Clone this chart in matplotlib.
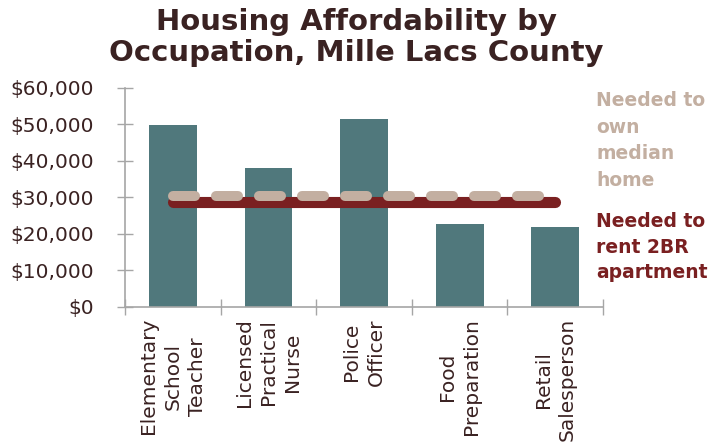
import numpy as np
from matplotlib import pyplot as plt
from matplotlib.ticker import FuncFormatter, FixedLocator

### Data
occupations = ['Elementary\nSchool\nTeacher', 'Licensed\nPractical\nNurse',
               'Police\nOfficer', 'Food\nPreparation', 'Retail\nSalesperson']
wages = [49800, 38200, 51400, 22800, 22000]
ownNeeded = [30400, 30400, 30400, 30400, 30400]
rentNeeded = [28700, 28700, 28700, 28700, 28700]

### Colours
barCol = '#50787C'
ownCol = '#C3AFA1'
rentCol = '#7A2021'
textCol = '#3A2222'
axisCol = '#A6A6A6'

x = np.arange(len(occupations))

fig = plt.figure(figsize=(7.08, 4.46), dpi=100)
ax = fig.add_axes([0.1766, 0.3117, 0.8517 - 0.1766, 0.8027 - 0.3117])

ax.bar(x, wages, width=0.5, color=barCol, zorder=2)
ax.plot(x, rentNeeded, color=rentCol, lw=8, solid_capstyle='round', zorder=3)
ax.plot(x, ownNeeded, color=ownCol, lw=7.2, dashes=(2.2, 2.1),
        dash_capstyle='round', zorder=4)

ax.set_xlim(-0.5, 4.5)
ax.set_ylim(0, 60000)
ax.set_yticks(np.arange(0, 60001, 10000))
ax.yaxis.set_major_formatter(FuncFormatter(lambda v, p: r'\$' + format(int(v), ',')))

ax.set_xticks(x)
ax.set_xticklabels(occupations, rotation=90, ha='center', va='top',
                   multialignment='center', fontsize=14.5, color=textCol,
                   linespacing=1.35)
ax.xaxis.set_minor_locator(FixedLocator(np.arange(-0.5, 5, 1.0)))
ax.tick_params(axis='x', which='major', length=0, pad=8)
ax.tick_params(axis='x', which='minor', direction='inout', length=12,
               color=axisCol, width=1)
ax.tick_params(axis='y', direction='inout', length=11, color=axisCol,
               width=1, labelsize=14.5, labelcolor=textCol, pad=17)

for s in ['top', 'right']:
    ax.spines[s].set_visible(False)
for s in ['left', 'bottom']:
    ax.spines[s].set_color(axisCol)
    ax.spines[s].set_linewidth(1.2)

fig.text(0.503, 0.982, 'Housing Affordability by\nOccupation, Mille Lacs County',
         ha='center', va='top', fontsize=21, fontweight='bold', color=textCol,
         linespacing=1.12)

fig.text(0.842, 0.795, 'Needed to\nown\nmedian\nhome', ha='left', va='top',
         fontsize=13.5, fontweight='bold', color=ownCol, linespacing=1.5)
fig.text(0.842, 0.525, 'Needed to\nrent 2BR\napartment', ha='left', va='top',
         fontsize=13.5, fontweight='bold', color=rentCol, linespacing=1.45)

fig.savefig('out.png', dpi=100)
